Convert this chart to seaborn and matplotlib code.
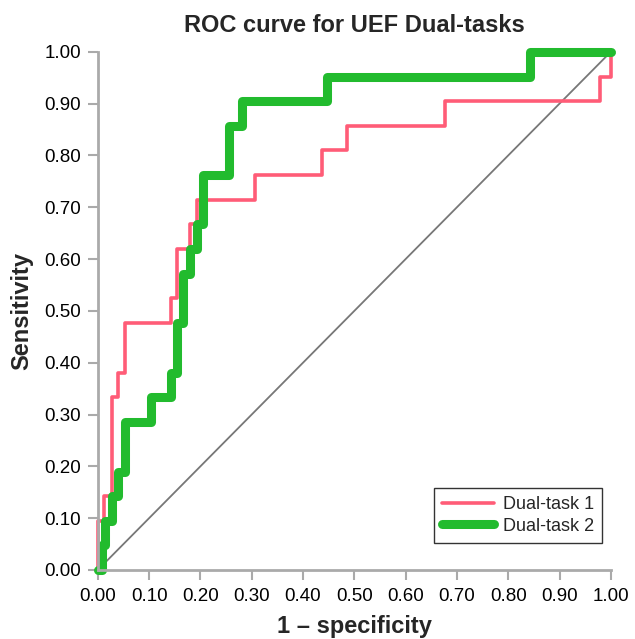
import pandas as pd
import matplotlib
matplotlib.use("Agg")
import matplotlib.pyplot as plt
import seaborn as sns

# ROC points (1 - specificity, sensitivity), drawn as steps
fpr_task1 = [0.0, 0.0, 0.012, 0.027, 0.040, 0.053, 0.142, 0.154, 0.180, 0.193,
             0.306, 0.437, 0.485, 0.676, 0.978, 1.0]
tpr_task1 = [0.0, 0.095, 0.143, 0.333, 0.381, 0.476, 0.524, 0.619, 0.667, 0.714,
             0.762, 0.810, 0.857, 0.905, 0.952, 1.0]

fpr_task2 = [0.0, 0.008, 0.014, 0.027, 0.039, 0.053, 0.103, 0.142, 0.155, 0.166,
             0.180, 0.193, 0.205, 0.256, 0.282, 0.446, 0.842, 1.0]
tpr_task2 = [0.0, 0.048, 0.095, 0.143, 0.190, 0.286, 0.333, 0.381, 0.476, 0.571,
             0.619, 0.667, 0.762, 0.857, 0.905, 0.952, 1.0, 1.0]

ref_line = [0.0, 1.0]
ticks = [i / 10 for i in range(11)]

red = "#ff5c77"
green = "#22bb2e"
axis_grey = "#aaaaaa"

sns.set_style("white")
plt.rcParams["font.family"] = ["Liberation Sans", "DejaVu Sans"]

fig = plt.figure(figsize=(6.35, 6.39), dpi=100)
ax = fig.add_axes([0.154, 0.108, 0.808, 0.811])

# chance line
sns.lineplot(x=ref_line, y=ref_line, ax=ax, color="#777777", linewidth=1.3)

df1 = pd.DataFrame({"fpr": fpr_task1, "tpr": tpr_task1})
df2 = pd.DataFrame({"fpr": fpr_task2, "tpr": tpr_task2})

sns.lineplot(data=df1, x="fpr", y="tpr", ax=ax, sort=False, estimator=None,
             color=red, linewidth=2.6, drawstyle="steps-post",
             label="Dual-task 1", clip_on=False)
sns.lineplot(data=df2, x="fpr", y="tpr", ax=ax, sort=False, estimator=None,
             color=green, linewidth=6.5, drawstyle="steps-post",
             label="Dual-task 2", clip_on=False, solid_capstyle="round")

ax.set_xlim(0, 1)
ax.set_ylim(0, 1)
ax.set_xticks(ticks)
ax.set_yticks(ticks)
ax.set_xticklabels([f"{t:.2f}" for t in ticks])
ax.set_yticklabels([f"{t:.2f}" for t in ticks])

for side in ["top", "right"]:
    ax.spines[side].set_visible(False)
for side in ["left", "bottom"]:
    ax.spines[side].set_color(axis_grey)
    ax.spines[side].set_linewidth(2)

ax.tick_params(axis="both", direction="out", length=7, width=1.5,
               color=axis_grey, labelsize=13.5, labelcolor="black",
               bottom=True, left=True)
ax.tick_params(axis="x", pad=6)
ax.tick_params(axis="y", pad=5)

ax.set_title("ROC curve for UEF Dual-tasks", fontsize=17, fontweight="bold", pad=14)
ax.set_xlabel("1 \u2013 specificity", fontsize=17, fontweight="bold", labelpad=7)
ax.set_ylabel("Sensitivity", fontsize=17, fontweight="bold", labelpad=8)

leg = ax.legend(loc="lower right", bbox_to_anchor=(1.0, 0.035), fontsize=13,
                frameon=True, fancybox=False, handlelength=2.9,
                borderpad=0.45, labelspacing=0.25, handletextpad=0.45)
leg.get_frame().set_edgecolor("black")
leg.get_frame().set_linewidth(1.0)

fig.savefig("out.png", dpi=100)
